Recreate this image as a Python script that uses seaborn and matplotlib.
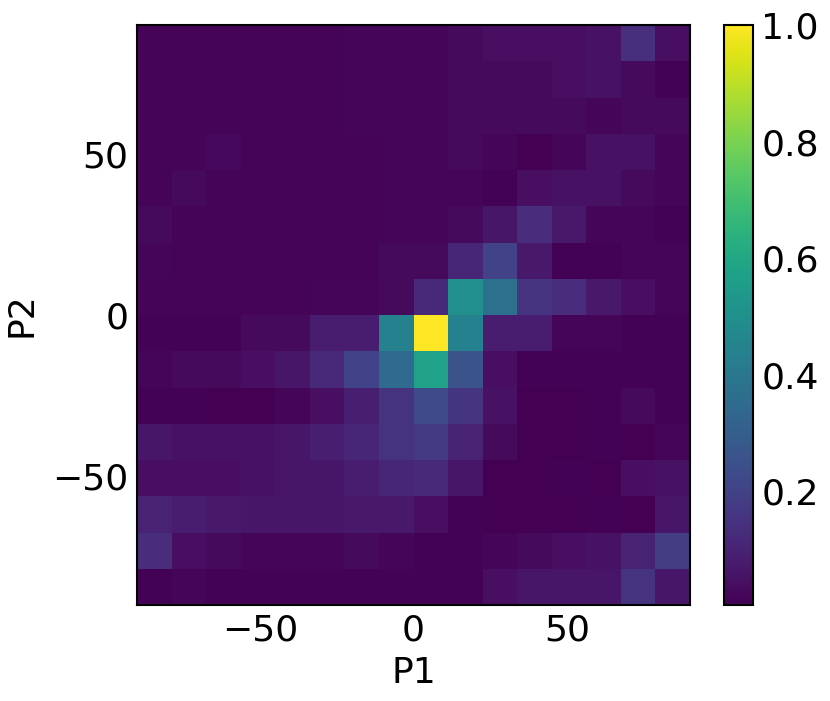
import numpy as np
import pandas as pd
import matplotlib
matplotlib.use("Agg")
import matplotlib.pyplot as plt
import seaborn as sns

# bin edges for P1 and P2 (16 bins from -90 to 90)
edges = np.linspace(-90, 90, 17)
centers = (edges[:-1] + edges[1:]) / 2

# normalized density, rows from top (P2 high) to bottom (P2 low), columns P1 left->right
row_0  = [0.015, 0.015, 0.015, 0.015, 0.015, 0.015, 0.02, 0.02, 0.02, 0.03, 0.04, 0.04, 0.04, 0.05, 0.14, 0.04]
row_1  = [0.015, 0.015, 0.015, 0.015, 0.015, 0.015, 0.02, 0.02, 0.02, 0.03, 0.03, 0.03, 0.04, 0.05, 0.03, 0.01]
row_2  = [0.015, 0.015, 0.015, 0.015, 0.015, 0.015, 0.02, 0.02, 0.02, 0.03, 0.03, 0.03, 0.03, 0.02, 0.03, 0.03]
row_3  = [0.015, 0.015, 0.025, 0.015, 0.015, 0.015, 0.015, 0.02, 0.02, 0.03, 0.02, 0.005, 0.02, 0.05, 0.05, 0.02]
row_4  = [0.015, 0.03, 0.015, 0.015, 0.015, 0.015, 0.015, 0.02, 0.02, 0.02, 0.01, 0.04, 0.05, 0.05, 0.03, 0.02]
row_5  = [0.03, 0.015, 0.015, 0.015, 0.015, 0.015, 0.015, 0.02, 0.02, 0.03, 0.06, 0.13, 0.07, 0.02, 0.02, 0.01]
row_6  = [0.02, 0.015, 0.015, 0.015, 0.015, 0.015, 0.015, 0.03, 0.03, 0.11, 0.20, 0.07, 0.01, 0.01, 0.02, 0.02]
row_7  = [0.015, 0.015, 0.015, 0.015, 0.015, 0.02, 0.02, 0.03, 0.12, 0.50, 0.37, 0.15, 0.13, 0.07, 0.04, 0.02]
row_8  = [0.01, 0.01, 0.01, 0.03, 0.03, 0.08, 0.08, 0.44, 1.00, 0.44, 0.08, 0.08, 0.02, 0.02, 0.01, 0.01]
row_9  = [0.02, 0.03, 0.03, 0.04, 0.06, 0.12, 0.20, 0.35, 0.58, 0.26, 0.04, 0.01, 0.01, 0.01, 0.01, 0.01]
row_10 = [0.01, 0.01, 0.005, 0.005, 0.02, 0.04, 0.09, 0.15, 0.23, 0.16, 0.05, 0.005, 0.005, 0.01, 0.03, 0.01]
row_11 = [0.06, 0.05, 0.05, 0.05, 0.06, 0.09, 0.11, 0.15, 0.17, 0.10, 0.03, 0.005, 0.005, 0.01, 0.005, 0.02]
row_12 = [0.04, 0.04, 0.04, 0.05, 0.06, 0.06, 0.08, 0.11, 0.12, 0.06, 0.005, 0.005, 0.01, 0.005, 0.04, 0.05]
row_13 = [0.10, 0.08, 0.07, 0.06, 0.06, 0.06, 0.07, 0.07, 0.04, 0.01, 0.005, 0.005, 0.005, 0.01, 0.005, 0.06]
row_14 = [0.13, 0.04, 0.03, 0.02, 0.02, 0.02, 0.03, 0.02, 0.01, 0.01, 0.02, 0.03, 0.04, 0.05, 0.10, 0.18]
row_15 = [0.01, 0.02, 0.01, 0.01, 0.01, 0.01, 0.01, 0.01, 0.01, 0.01, 0.04, 0.06, 0.06, 0.06, 0.15, 0.06]

rows = [row_0, row_1, row_2, row_3, row_4, row_5, row_6, row_7,
        row_8, row_9, row_10, row_11, row_12, row_13, row_14, row_15]
p2_centers = centers[::-1]  # top row = highest P2

xs, ys, ws = [], [], []
for r, yc in zip(rows, p2_centers):
    for v, xc in zip(r, centers):
        xs.append(xc)
        ys.append(yc)
        ws.append(v)
df = pd.DataFrame({"P1": xs, "P2": ys, "w": ws})

sns.set_style("white")
plt.rcParams["font.family"] = ["DejaVu Sans"]
plt.rcParams["text.color"] = "black"
plt.rcParams["axes.labelcolor"] = "black"
plt.rcParams["xtick.color"] = "black"
plt.rcParams["ytick.color"] = "black"
FS = 26

W, H = 830, 701
fig = plt.figure(figsize=(W / 100, H / 100), dpi=100)
ax = fig.add_axes([137 / W, 1 - 605 / H, 553 / W, 580 / H])
cax = fig.add_axes([724 / W, 1 - 605 / H, 29 / W, 580 / H])

sns.histplot(data=df, x="P1", y="P2", weights="w", bins=16,
             binrange=((-90, 90), (-90, 90)), cmap="viridis",
             vmin=min(ws), vmax=1.0, cbar=True, cbar_ax=cax, ax=ax)

ax.set_xlim(-90, 90)
ax.set_ylim(-90, 90)
ax.set_xticks([-50, 0, 50])
ax.set_yticks([-50, 0, 50])
ax.tick_params(direction="in", labelsize=FS, length=5, width=1.2,
               colors="black", bottom=True, left=True, pad=6)
ax.set_xlabel("P1", fontsize=FS, color="black", labelpad=6)
ax.set_ylabel("P2", fontsize=FS, color="black", labelpad=10)
for s in ax.spines.values():
    s.set_visible(True)
    s.set_color("black")
    s.set_linewidth(1.5)

cax.set_yticks([0.2, 0.4, 0.6, 0.8, 1.0])
cax.tick_params(direction="in", labelsize=FS, length=5, width=1.2,
                colors="black", right=True, left=False, pad=6)
cbar = ax.collections[0].colorbar
if cbar is not None:
    cbar.outline.set_visible(True)
    cbar.outline.set_edgecolor("black")
    cbar.outline.set_linewidth(1.5)

fig.savefig("out.png", dpi=100)
